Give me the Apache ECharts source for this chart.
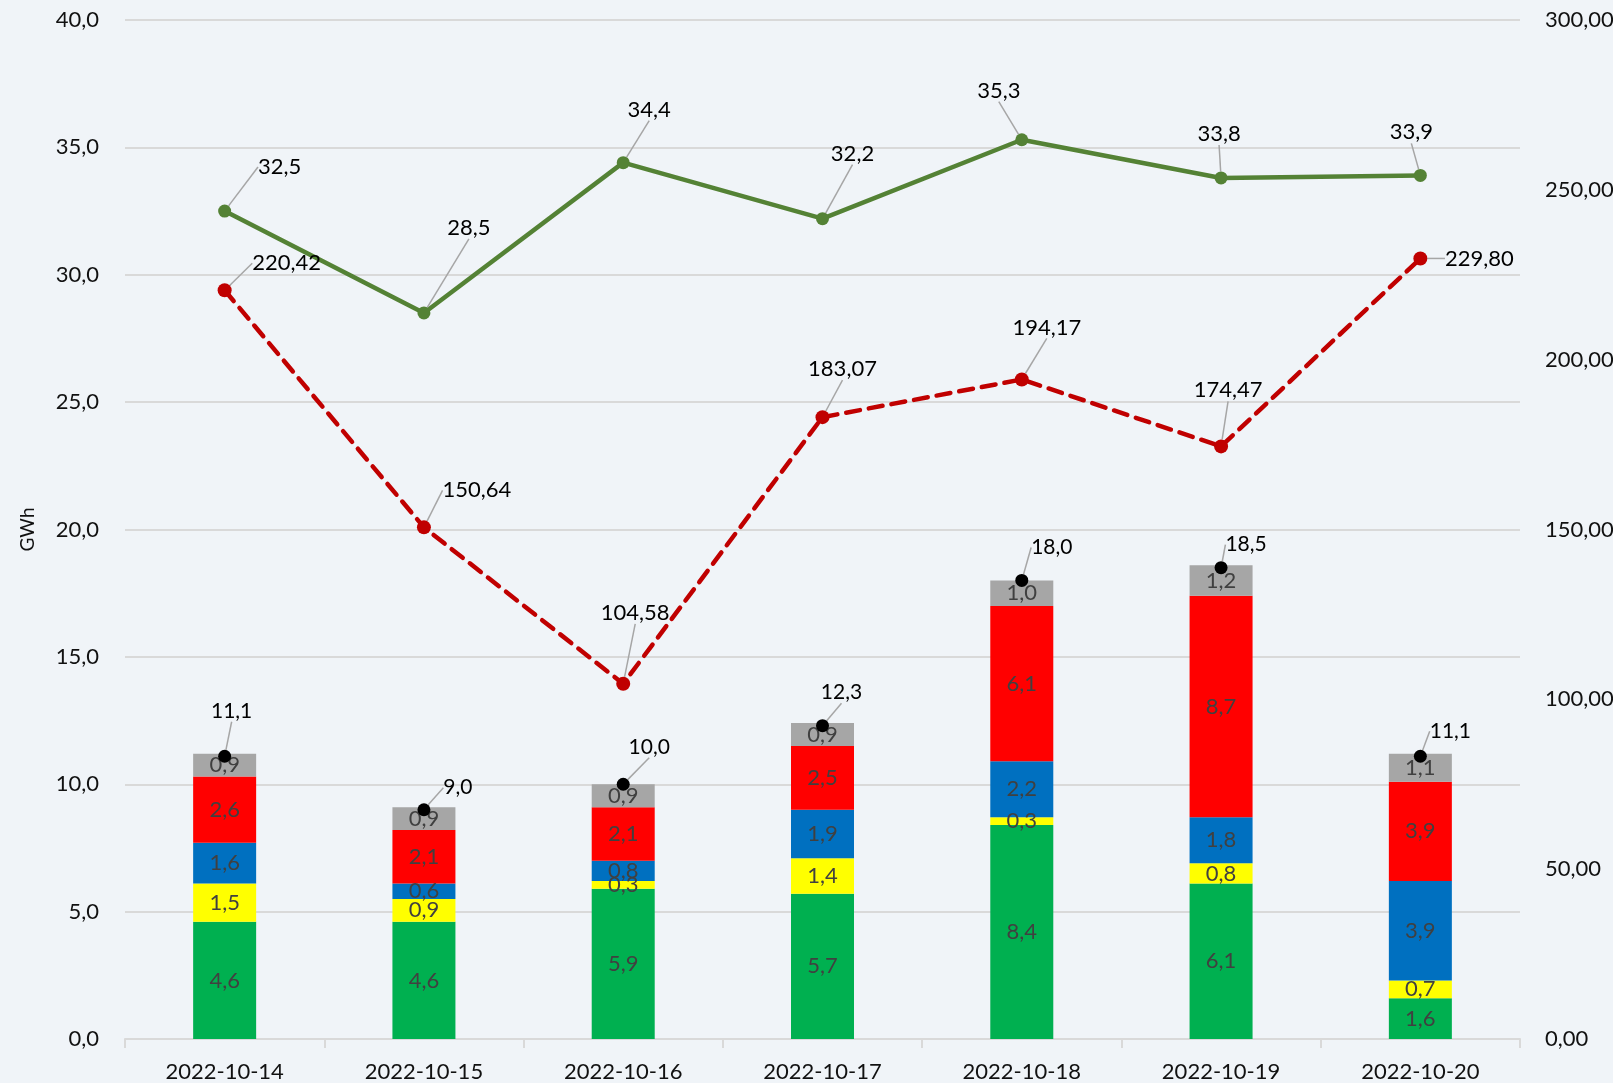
<!DOCTYPE html>
<html>
<head>
<meta charset="utf-8">
<title>GWh</title>
<script src="https://cdn.jsdelivr.net/npm/echarts@6/dist/echarts.min.js"></script>
<style>
  html, body { margin: 0; padding: 0; background: #F0F4F8; overflow: hidden; }
  #main { width: 1613px; height: 1083px; }
</style>
</head>
<body>
<div id="main"></div>
<script>
// categories
var days = ['2022-10-14', '2022-10-15', '2022-10-16', '2022-10-17', '2022-10-18', '2022-10-19', '2022-10-20'];

// stacked bars, GWh (bottom to top)
var sGreen  = [4.6, 4.6, 5.9, 5.7, 8.4, 6.1, 1.6];
var sYellow = [1.5, 0.9, 0.3, 1.4, 0.3, 0.8, 0.7];
var sBlue   = [1.6, 0.6, 0.8, 1.9, 2.2, 1.8, 3.9];
var sRed    = [2.6, 2.1, 2.1, 2.5, 6.1, 8.7, 3.9];
var sGrey   = [0.9, 0.9, 0.9, 0.9, 1.0, 1.2, 1.1];
var totals  = [11.1, 9.0, 10.0, 12.3, 18.0, 18.5, 11.1];

// lines
var greenLine = [32.5, 28.5, 34.4, 32.2, 35.3, 33.8, 33.9];          // left axis
var redLine   = [220.42, 150.64, 104.58, 183.07, 194.17, 174.47, 229.80]; // right axis

// label offsets (px) from the point
var offGreen = [[55, -44], [45, -85], [26, -53], [30, -65], [-23, -49], [-2, -44], [-9, -43]];
var offRed   = [[62, -27], [53, -37], [12, -71], [20, -48], [25, -52], [7, -56], [59, 0]];
var offTot   = [[7, -45], [34, -22], [26, -37], [19, -33], [30, -33], [25, -23], [30, -25]];

var FONT = 'Lato';
function comma(v, d) { return Number(v).toFixed(d).replace('.', ','); }

var myChart = echarts.init(document.getElementById('main'));

function barSeries(name, data, color) {
	return {
		name: name,
		type: 'bar',
		stack: 'mix',
		yAxisIndex: 0,
		barWidth: 63,
		data: data,
		itemStyle: { color: color },
		label: {
			show: true,
			position: 'inside',
			color: '#404040',
			fontFamily: FONT,
			fontSize: 22,
			formatter: function (p) { return comma(p.value, 1); }
		},
		z: 2
	};
}

function offsetLayout(arr) {
	return function (p) {
		var o = arr[p.dataIndex];
		return { dx: o[0], dy: o[1] };
	};
}

var labelText = { show: true, position: 'inside', color: '#000', fontFamily: FONT, fontSize: 22 };
var guide = { show: true, lineStyle: { color: '#A6A6A6', width: 1.5 } };

option = {
	backgroundColor: '#F0F4F8',
	animation: false,
	grid: { left: 125, right: 93, top: 20, bottom: 44, outerBoundsMode: 'none' },
	xAxis: {
		type: 'category',
		data: days,
		axisLine: { lineStyle: { color: '#D9D9D9', width: 2 } },
		axisTick: { show: true, length: 9, lineStyle: { color: '#D9D9D9', width: 2 } },
		axisLabel: { color: '#111', fontFamily: FONT, fontSize: 22, margin: 22 }
	},
	yAxis: [
		{
			type: 'value',
			min: 0, max: 40, interval: 5,
			name: 'GWh',
			nameLocation: 'middle',
			nameGap: 88,
			nameRotate: 90,
			nameTextStyle: { color: '#111', fontFamily: FONT, fontSize: 19 },
			axisLine: { show: false },
			axisTick: { show: false },
			splitLine: { lineStyle: { color: '#D9D9D9', width: 2 } },
			axisLabel: { color: '#111', fontFamily: FONT, fontSize: 22, margin: 26,
				formatter: function (v) { return comma(v, 1); } }
		},
		{
			type: 'value',
			min: 0, max: 300, interval: 50,
			position: 'right',
			axisLine: { show: false },
			axisTick: { show: false },
			splitLine: { show: false },
			axisLabel: { color: '#111', fontFamily: FONT, fontSize: 22, margin: 25, align: 'left',
				formatter: function (v) { return comma(v, 2); } }
		}
	],
	series: [
		barSeries('s1', sGreen, '#00B050'),
		barSeries('s2', sYellow, '#FFFF00'),
		barSeries('s3', sBlue, '#0070C0'),
		barSeries('s4', sRed, '#FF0000'),
		barSeries('s5', sGrey, '#A6A6A6'),
		{
			name: 'total',
			type: 'scatter',
			yAxisIndex: 0,
			data: totals,
			symbolSize: 13,
			itemStyle: { color: '#000', opacity: 1 },
			label: Object.assign({}, labelText, { fontSize: 21, formatter: function (p) { return comma(p.value, 1); } }),
			labelLayout: offsetLayout(offTot),
			labelLine: guide,
			z: 5
		},
		{
			name: 'green',
			type: 'line',
			yAxisIndex: 0,
			data: greenLine,
			symbol: 'circle',
			symbolSize: 13,
			lineStyle: { color: '#548235', width: 4.5 },
			itemStyle: { color: '#548235' },
			label: Object.assign({}, labelText, { formatter: function (p) { return comma(p.value, 1); } }),
			labelLayout: offsetLayout(offGreen),
			labelLine: guide,
			z: 4
		},
		{
			name: 'red',
			type: 'line',
			yAxisIndex: 1,
			data: redLine,
			symbol: 'circle',
			symbolSize: 14,
			lineStyle: { color: '#C00000', width: 4.5, type: [14, 9], cap: 'round' },
			itemStyle: { color: '#C00000' },
			label: Object.assign({}, labelText, { formatter: function (p) { return comma(p.value, 2); } }),
			labelLayout: offsetLayout(offRed),
			labelLine: guide,
			z: 4
		}
	]
};
myChart.setOption(option);
</script>
</body>
</html>
